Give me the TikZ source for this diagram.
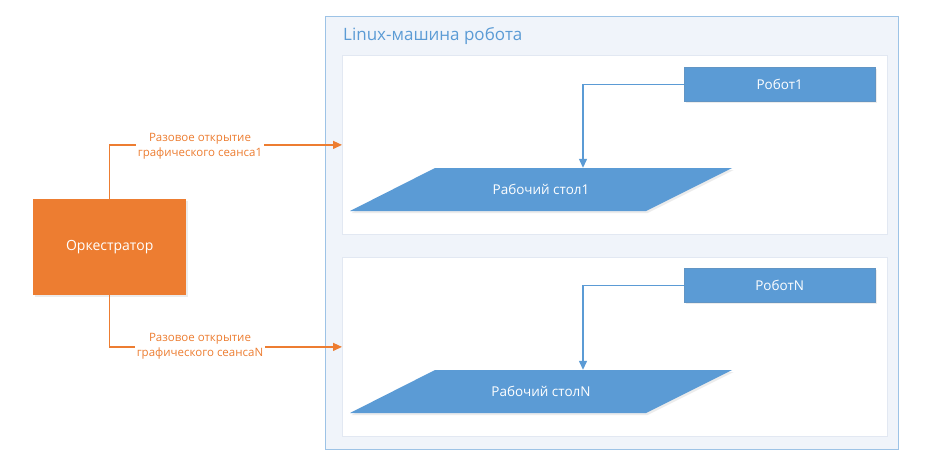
\documentclass[tikz,border=0pt]{standalone}
\usepackage{fontspec}
\setmainfont{Open Sans}
\usetikzlibrary{arrows.meta,shadows}
\definecolor{blu}{HTML}{5B9BD5}
\definecolor{orng}{HTML}{ED7D31}
\definecolor{outerline}{HTML}{9DC3E6}
\definecolor{outerfill}{HTML}{F0F4FA}
\definecolor{panelline}{HTML}{E2E8F2}
\tikzset{
  outerbox/.style={draw=outerline, line width=1pt, fill=outerfill, anchor=north west, inner sep=0pt},
  panel/.style={draw=panelline, line width=0.8pt, fill=white, anchor=north west, inner sep=0pt},
  robotbox/.style={fill=blu, draw=blu!80!gray, line width=0.4pt, text=white, font=\fontsize{13.5}{15}\selectfont,
    minimum width=191pt, minimum height=34pt, inner sep=0pt, anchor=north west,
    drop shadow={opacity=0.15, shadow xshift=1.5pt, shadow yshift=-2pt}},
  orchbox/.style={fill=orng, text=white, font=\fontsize{14}{16}\selectfont,
    minimum width=153pt, minimum height=96pt, inner sep=0pt, anchor=north west,
    drop shadow={opacity=0.15, shadow xshift=1.5pt, shadow yshift=-2pt}},
  deskshape/.style={fill=blu, drop shadow={opacity=0.15, shadow xshift=1.5pt, shadow yshift=-2pt}},
  desktext/.style={text=white, font=\fontsize{13.5}{15}\selectfont, minimum width=296pt, minimum height=43pt, inner sep=0pt},
  oarrow/.style={draw=orng, line width=1.3pt, -{Triangle[length=9pt,width=8pt]}},
  barrow/.style={draw=blu, line width=1.3pt, -{Triangle[length=9pt,width=8pt]}},
  lbl/.style={fill=white, text=orng, align=center, inner sep=1.5pt, font=\fontsize{11.5}{15}\selectfont},
  title/.style={text=blu, anchor=west, inner sep=0pt, font=\fontsize{17}{19}\selectfont},
}
\begin{document}
\begin{tikzpicture}[x=1pt,y=-1pt]
\useasboundingbox (0,0) rectangle (932,466);
% outer machine box
\node[outerbox, minimum width=573pt, minimum height=433pt] (linux) at (325,16) {};
\node[title] (ttl) at (343,36) {Linux-машина робота};
% panels
\node[panel, minimum width=545pt, minimum height=179pt] (p1) at (342,55) {};
\node[panel, minimum width=545pt, minimum height=179pt] (p2) at (342,257) {};
% robots
\node[robotbox] (r1) at (684,67) {Робот1};
\node[robotbox] (rn) at (684,268) {РоботN};
% desktops
\path[deskshape] (350,211) -- (435,168) -- (732,168) -- (646,211) -- cycle;
\node[desktext] (d1) at (541,189.5) {Рабочий стол1};
\path[deskshape] (350,413) -- (435,370) -- (732,370) -- (646,413) -- cycle;
\node[desktext] (dn) at (541,391.5) {Рабочий столN};
% robot arrows
\draw[barrow] (r1.west) -| ([xshift=42pt]d1.north);
\draw[barrow] (rn.west) -| ([xshift=42pt]dn.north);
% orchestrator
\node[orchbox] (orch) at (33,199) {Оркестратор};
\draw[oarrow] (orch.north) |- (p1.west);
\draw[oarrow] (orch.south) |- (p2.west);
\node[lbl] (l1) at (200,146) {Разовое открытие\\графического сеанса1};
\node[lbl] (ln) at (200,346) {Разовое открытие\\графического сеансаN};
\end{tikzpicture}
\end{document}
